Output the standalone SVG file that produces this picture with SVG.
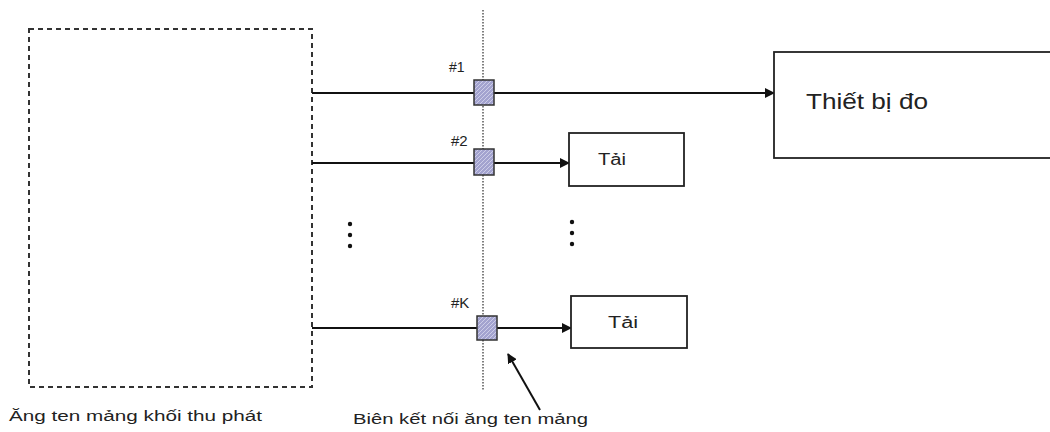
<svg xmlns="http://www.w3.org/2000/svg" width="1050" height="432" viewBox="0 0 1050 432">
<style>
.ln{stroke:#111;stroke-width:2;fill:none}
.box{fill:#fff;stroke:#222;stroke-width:1.8}
.port{stroke:#333;stroke-width:1.5}
.t{font-family:"Liberation Sans",Arial,sans-serif;fill:#222}
.dot{fill:#111}
</style>
<defs>
<marker id="ah" markerWidth="10" markerHeight="10" refX="9" refY="5" orient="auto" markerUnits="userSpaceOnUse">
<path d="M0,0 L10,5 L0,10 z" fill="#111"/>
</marker>
<pattern id="hatch" width="4" height="4" patternUnits="userSpaceOnUse">
<rect width="4" height="4" fill="#a3a3cf"/>
<path d="M0,4 L4,0" stroke="#d8d8ee" stroke-width="0.8"/>
</pattern>
</defs>
<rect width="1050" height="432" fill="#fff"/>
<g id="array-block">
<rect x="29" y="29" width="283" height="358" fill="none" stroke="#333" stroke-width="2" stroke-dasharray="5,4"/>
<text class="t" x="9" y="421" font-size="14" textLength="253" lengthAdjust="spacingAndGlyphs">Ăng ten mảng khối thu phát</text>
</g>
<g id="boundary">
<line x1="483" y1="10" x2="483" y2="390" stroke="#555" stroke-width="1.5" stroke-dasharray="1.5,1.5"/>
<text class="t" x="353" y="424" font-size="14" textLength="235" lengthAdjust="spacingAndGlyphs">Biên kết nối ăng ten mảng</text>
</g>
<g id="connectors">
<line class="ln" x1="312" y1="93" x2="774" y2="93" marker-end="url(#ah)"/>
<line class="ln" x1="312" y1="163" x2="569" y2="163" marker-end="url(#ah)"/>
<line class="ln" x1="312" y1="328" x2="571" y2="328" marker-end="url(#ah)"/>
<line class="ln" x1="540" y1="410" x2="508" y2="354" marker-end="url(#ah)"/>
</g>
<g id="port1">
<rect class="port" x="474" y="80" width="20" height="25" fill="url(#hatch)"/>
<text class="t" x="449" y="72" font-size="14">#1</text>
</g>
<g id="port2">
<rect class="port" x="474" y="149" width="20" height="26" fill="url(#hatch)"/>
<text class="t" x="451" y="146" font-size="15">#2</text>
</g>
<g id="portK">
<rect class="port" x="477" y="316" width="20" height="24" fill="url(#hatch)"/>
<text class="t" x="451" y="308" font-size="15">#K</text>
</g>
<g id="meter">
<rect class="box" x="774" y="52" width="290" height="106"/>
<text class="t" x="806" y="109" font-size="22" textLength="122" lengthAdjust="spacingAndGlyphs">Thiết bị đo</text>
</g>
<g id="load2">
<rect class="box" x="569" y="133" width="115" height="53"/>
<text class="t" x="598" y="165" font-size="16" textLength="28" lengthAdjust="spacingAndGlyphs">Tải</text>
</g>
<g id="loadK">
<rect class="box" x="571" y="296" width="116" height="52"/>
<text class="t" x="608" y="328" font-size="16" textLength="30" lengthAdjust="spacingAndGlyphs">Tải</text>
</g>
<g id="ellipsis">
<circle class="dot" cx="350" cy="224" r="2.2"/>
<circle class="dot" cx="350" cy="235" r="2.2"/>
<circle class="dot" cx="350" cy="246" r="2.2"/>
<circle class="dot" cx="572" cy="222" r="2.2"/>
<circle class="dot" cx="572" cy="233" r="2.2"/>
<circle class="dot" cx="572" cy="244" r="2.2"/>
</g>
</svg>
